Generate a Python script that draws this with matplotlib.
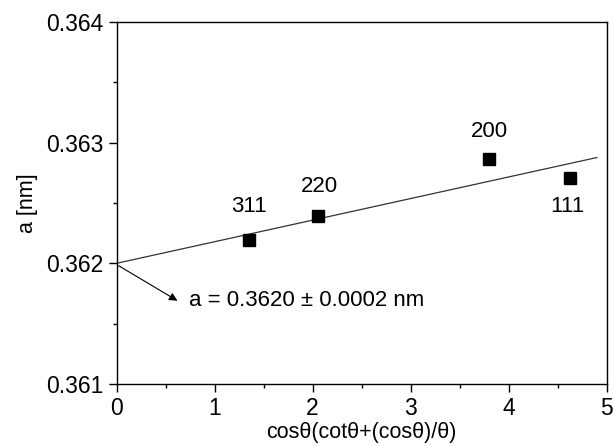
import matplotlib
matplotlib.use("Agg")
import matplotlib.pyplot as plt
from matplotlib.ticker import MultipleLocator

plt.rcParams['font.family'] = ['Liberation Sans', 'DejaVu Sans']

# measured points (x = cos(theta)(cot(theta)+cos(theta)/theta), lattice parameter a)
x_pts = [1.35, 2.05, 3.80, 4.63]
a_pts = [0.36219, 0.36239, 0.36286, 0.36271]
hkl = ["311", "220", "200", "111"]
label_pos = [(1.35, 0.36247), (2.07, 0.36264), (3.80, 0.36309), (4.60, 0.36247)]

# linear fit (extrapolated to x = 0)
fit_x = [0.0, 4.9]
fit_a = [0.3620, 0.362876]

fig, ax = plt.subplots(figsize=(6.14, 4.46), dpi=100)
fig.subplots_adjust(left=0.19, right=0.988, top=0.951, bottom=0.139)

ax.plot(fit_x, fit_a, color="#333333", lw=0.9)
ax.plot(x_pts, a_pts, "s", color="black", ms=9)

for lab, (lx, ly) in zip(hkl, label_pos):
    ax.text(lx, ly, lab, ha="center", va="center", fontsize=16)

ax.annotate("", xy=(0.62, 0.36169), xytext=(0.02, 0.36198),
            arrowprops=dict(arrowstyle="-|>", color="black", lw=0.8,
                            mutation_scale=12, shrinkA=0, shrinkB=0))
ax.text(0.74, 0.36169, "a = 0.3620 ± 0.0002 nm", ha="left", va="center", fontsize=16)

ax.set_xlim(0, 5)
ax.set_ylim(0.361, 0.364)
ax.xaxis.set_major_locator(MultipleLocator(1))
ax.xaxis.set_minor_locator(MultipleLocator(0.5))
ax.yaxis.set_major_locator(MultipleLocator(0.001))
ax.yaxis.set_minor_locator(MultipleLocator(0.0005))
ax.yaxis.set_major_formatter(matplotlib.ticker.FormatStrFormatter("%.3f"))
ax.tick_params(which="major", direction="out", length=6, width=1, labelsize=16.5)
ax.tick_params(which="minor", direction="out", length=3, width=1)
for s in ax.spines.values():
    s.set_linewidth(1)

ax.set_xlabel("cosθ(cotθ+(cosθ)/θ)", fontsize=15.5, labelpad=1)
ax.set_ylabel("a [nm]", fontsize=15.5, labelpad=6)

plt.savefig("out.png", dpi=100)
plt.close()
